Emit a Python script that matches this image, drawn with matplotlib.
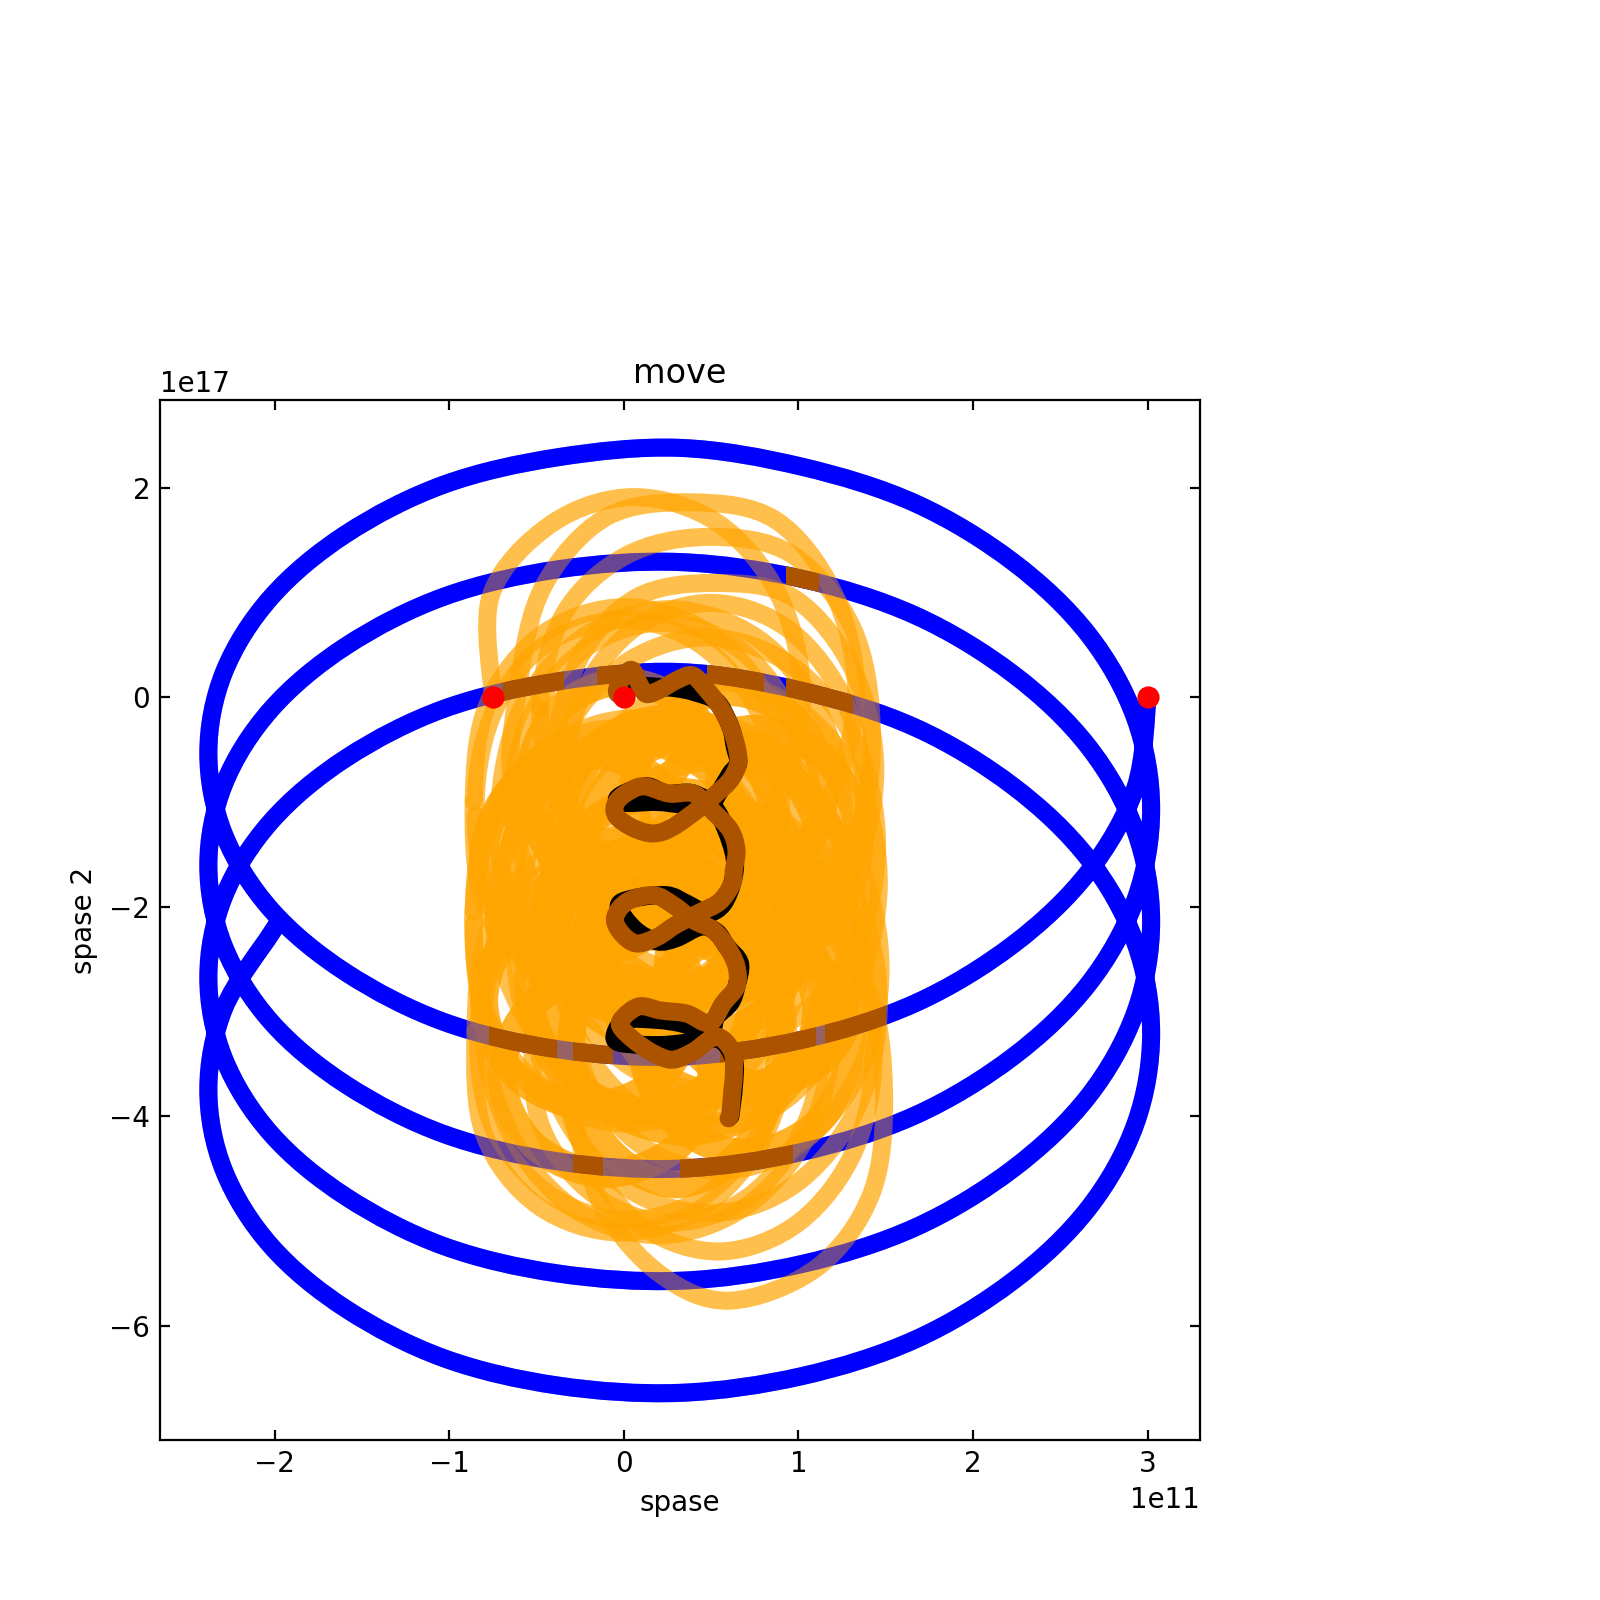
"""Three body move plot
"""
import numpy as np
import matplotlib
matplotlib.use('Agg')
import matplotlib.pyplot as plt
from matplotlib.patches import PathPatch, Rectangle
from matplotlib.path import Path

# all paths in units of 1e11 (x) and 1e17 (y)
blue_x = [3.0, 2.93, 2.66, 2.23, 1.67, 1.02, .32, -.38, -1.03, -1.59, -2.02, -2.29,
          -2.38, -2.29, -2.02, -1.59, -1.03, -.38, .32, 1.02, 1.67, 2.23, 2.66, 2.93,
          3.02, 2.93, 2.66, 2.23, 1.67, 1.02, .32, -.38, -1.03, -1.59, -2.02, -2.29,
          -2.38, -2.29, -2.02, -1.59, -1.03, -.38, .32, 1.02, 1.67, 2.23, 2.66, 2.93,
          3.02, 2.93, 2.66, 2.23, 1.67, 1.02, .32, -.38, -1.03, -1.59, -2.02, -2.29,
          -2.38, -2.29, -2.02, -1.59, -1.03, -.38, .32, 1.02, 1.67, 2.23, 2.66, 2.93,
          3.02, 2.93, 2.66, 2.23, 1.67, 1.02, .32, -.38, -1.03, -1.59, -2.02, -2.29,
          -2.38, -2.29, -2.02, -1.97]
blue_y = [0, -.865, -1.67, -2.36, -2.92, -3.27, -3.43, -3.36, -3.10, -2.63, -2.03, -1.31,
          -.535, .24, .956, 1.56, 2.03, 2.29, 2.38, 2.20, 1.85, 1.29, .60, -.205,
          -1.07, -1.935, -2.74, -3.43, -3.99, -4.34, -4.50, -4.43, -4.17, -3.70, -3.10, -2.38,
          -1.605, -.83, -.114, .49, .96, 1.22, 1.29, 1.13, .78, .22, -.47, -1.275,
          -2.14, -3.005, -3.81, -4.50, -5.06, -5.41, -5.57, -5.50, -5.24, -4.77, -4.17, -3.45,
          -2.675, -1.90, -1.184, -.58, -.11, .15, .24, .06, -.29, -.85, -1.54, -2.345,
          -3.21, -4.075, -4.88, -5.57, -6.13, -6.48, -6.64, -6.57, -6.31, -5.84, -5.24, -4.52,
          -3.745, -2.97, -2.254, -2.13]

# one row per loop, 12 points each
orange_x = [-.75, -.76, -.41, .06, .54, .885, 1.02, .91, .585, .14, -.31, -.63,
            -.60, -.46, -.10, .40, .87, 1.20, 1.33, 1.20, .90, .45, -.02, -.36,
            -.48, -.345, .01, .48, .96, 1.31, 1.42, 1.34, 1.02, .58, .13, -.19,
            -.38, -.26, .07, .53, .98, 1.32, 1.44, 1.31, .97, .51, .04, -.30,
            -.35, -.24, .07, .51, .95, 1.27, 1.375, 1.23, .88, .40, -.08, -.44,
            -.64, -.54, -.22, .22, .66, .97, 1.08, .93, .58, .10, -.38, -.74,
            -.85, -.76, -.47, -.01, .44, .78, .90, .77, .43, -.04, -.50, -.80,
            -.86, -.78, -.46, .01, .49, .84, .98, .87, .55, .10, -.34, -.66,
            -.71, -.57, -.21, .27, .76, 1.115, 1.26, 1.16, .84, .41, -.03, -.35,
            -.455, -.32, .03, .50, .97, 1.32, 1.45, 1.34, 1.01, .56, .11, -.21,
            -.325, -.21, .12, .57, 1.02, 1.35, 1.46, 1.33, .98, .51, .04, -.30,
            -.42, -.32, -.005, .43, .87, 1.19, 1.29, 1.14, .785, .30, -.18, -.54,
            -.74, -.63, -.31, .13, .57, .89, 1.0, .86, .51, .03, -.45, -.78,
            -.86, -.79, -.50, -.04, .43, .77, .89, .77, .44, -.02, -.48, -.79,
            -.86, -.74, -.405, .07, .55, .91, 1.05, .95, .63, .19, -.25, -.57,
            -.61, -.47, -.11, .37, .85, 1.21, 1.35, 1.25, .93, .49, .05, -.265,
            -.39, -.26, .08, .545, 1.01, 1.35, 1.47, 1.36, 1.03, .575, .12, -.21,
            -.285, -.18, .15, .59, 1.04, 1.36, 1.46, 1.33, .98, .51, .03, -.32,
            -.51, -.41, -.10, .34, .78, 1.09, 1.195, 1.05, .69, .21, -.27, -.63,
            -.80, -.72, -.39, .055, .50, .83, .94, .805, .46, -.015, -.49, -.80,
            -.85, -.78, -.50, -.03, .44, .78, .91, .80, .47, .02, -.43, -.76,
            -.83, -.69, -.33, .15, .635, .99, 1.14, 1.04, .72, .28, -.155, -.47,
            -.515, -.375, -.02, .46, .935, 1.29, 1.43, 1.325, 1.005, .56, .12, -.20,
            -.35, -.22, .13, .60, 1.07, 1.40, 1.49, 1.42, 1.11, .61, .21, -.12,
            -.30]
orange_y = [0, .98, 1.66, 1.91, 1.66, .98, .06, -.87, -1.54, -1.79, -1.54, -.87,
            .15, 1.06, 1.72, 1.86, 1.69, 1.0, .06, -.88, -1.57, -1.84, -1.60, -.94,
            -.105, .79, 1.35, 1.53, 1.365, .66, -.30, -1.26, -1.965, -2.25, -2.03, -1.39,
            -.545, .35, .95, 1.09, .94, .234, -.72, -1.67, -2.38, -2.66, -2.44, -1.79,
            -.89, .015, .67, .90, .64, -.06, -1.0, -1.94, -2.64, -2.90, -2.67, -2.015,
            -1.13, -.21, .465, .71, .46, -.22, -1.15, -2.08, -2.76, -3.01, -2.765, -2.09,
            -1.13, -.20, .48, .74, .50, -.17, -1.09, -2.01, -2.68, -2.92, -2.66, -1.98,
            -.99, -.065, .61, .86, .61, -.065, -.99, -1.915, -2.59, -2.84, -2.59, -1.915,
            -.965, -.056, .60, .84, .57, -.12, -1.06, -2.0, -2.69, -2.96, -2.72, -2.06,
            -1.185, -.29, .35, .57, .29, -.41, -1.37, -2.33, -3.03, -3.31, -3.09, -2.45,
            -1.61, -.72, -.07, .145, -.14, -.84, -1.80, -2.76, -3.46, -3.745, -3.53, -2.88,
            -2.025, -1.12, -.46, -.23, -.495, -1.19, -2.13, -3.07, -3.765, -4.03, -3.80, -3.14,
            -2.22, -1.295, -.62, -.37, -.62, -1.295, -2.22, -3.145, -3.82, -4.07, -3.82, -3.145,
            -2.165, -1.23, -.55, -.295, -.54, -1.21, -2.125, -3.04, -3.71, -3.955, -3.70, -3.02,
            -2.04, -1.12, -.45, -.20, -.45, -1.13, -2.06, -2.99, -3.67, -3.92, -3.67, -3.0,
            -2.07, -1.17, -.515, -.29, -.56, -1.25, -2.2, -3.15, -3.84, -4.11, -3.885, -3.23,
            -2.37, -1.48, -.84, -.62, -.90, -1.61, -2.57, -3.53, -4.24, -4.52, -4.30, -3.66,
            -2.82, -1.92, -1.28, -1.055, -1.33, -2.04, -2.99, -3.94, -4.65, -4.925, -4.70, -4.06,
            -3.18, -2.27, -1.60, -1.365, -1.63, -2.31, -3.25, -4.19, -4.87, -5.135, -4.90, -4.23,
            -3.29, -2.36, -1.685, -1.43, -1.68, -2.35, -3.27, -4.19, -4.86, -5.11, -4.855, -4.175,
            -3.19, -2.26, -1.58, -1.33, -1.57, -2.24, -3.16, -4.08, -4.75, -4.99, -4.74, -4.06,
            -3.09, -2.17, -1.51, -1.265, -1.52, -2.21, -3.14, -4.07, -4.76, -5.015, -4.77, -4.11,
            -3.20, -2.30, -1.655, -1.43, -1.71, -2.41, -3.36, -4.31, -5.01, -5.29, -5.065, -4.42,
            -3.565, -2.67, -2.03, -1.82, -2.10, -2.81, -3.77, -4.73, -5.44, -5.76, -5.51, -4.87,
            -3.95]

# smaller loops inside the solid part, 8 points each
inner_x = [-.37, -.19, .25, .69, .87, .69, .25, -.19,
           -.25, -.04, .45, .94, 1.15, .94, .45, -.04,
           -.65, -.44, .05, .54, .75, .54, .05, -.44,
           -.45, -.23, .3, .83, 1.05, .83, .3, -.23,
           -.1, .09, .55, 1.01, 1.2, 1.01, .55, .09,
           -.55, -.36, .1, .56, .75, .56, .1, -.36,
           -.4, -.18, .35, .88, 1.1, .88, .35, -.18,
           .05, .21, .6, .99, 1.15, .99, .6, .21,
           -.55, -.39, 0, .39, .55, .39, 0, -.39,
           -.3, -.12, .3, .72, .9, .72, .3, -.12,
           .15, .33, .75, 1.17, 1.35, 1.17, .75, .33,
           -.8, -.62, -.2, .22, .4, .22, -.2, -.62,
           .25, .41, .8, 1.19, 1.35, 1.19, .8, .41,
           -.8, -.62, -.2, .22, .4, .22, -.2, -.62,
           .1, .28, .7, 1.12, 1.3, 1.12, .7, .28,
           -.7, -.52, -.1, .32, .5, .32, -.1, -.52]
inner_y = [-1.25, -.51, -.2, -.51, -1.25, -1.99, -2.3, -1.99,
           -1.6, -.72, -.35, -.72, -1.6, -2.48, -2.85, -2.48,
           -1.7, -.78, -.4, -.78, -1.7, -2.62, -3.0, -2.62,
           -2.1, -1.25, -.9, -1.25, -2.1, -2.95, -3.3, -2.95,
           -2.5, -1.58, -1.2, -1.58, -2.5, -3.42, -3.8, -3.42,
           -2.7, -1.82, -1.45, -1.82, -2.7, -3.58, -3.95, -3.58,
           -3.0, -2.19, -1.85, -2.19, -3.0, -3.81, -4.15, -3.81,
           -.9, -.23, .05, -.23, -.9, -1.57, -1.85, -1.57,
           -.85, -.14, .15, -.14, -.85, -1.56, -1.85, -1.56,
           -3.3, -2.35, -1.95, -2.35, -3.3, -4.25, -4.65, -4.25,
           -1.4, -.62, -.3, -.62, -1.4, -2.18, -2.5, -2.18,
           -1.5, -.83, -.55, -.83, -1.5, -2.17, -2.45, -2.17,
           -2.6, -1.82, -1.5, -1.82, -2.6, -3.38, -3.7, -3.38,
           -2.9, -2.19, -1.9, -2.19, -2.9, -3.61, -3.9, -3.61,
           -3.3, -2.56, -2.25, -2.56, -3.3, -4.04, -4.35, -4.04,
           -3.6, -2.93, -2.65, -2.93, -3.6, -4.27, -4.55, -4.27]

black_x = [0, .005, .19, .30, .40, .53, .61, .635, .655, .61, .53, .49, .36, .19, .015,
           -.04, 0, .13, .245, .40, .53, .625, .63, .57, .475, .36, .245, .055, -.03,
           .065, .19, .30, .44, .53, .59, .665, .645, .61, .53, .49, .32, .19, .015,
           -.05, -.02, .21, .40, .55, .63, .63, .61]
black_y = [.04, .115, .10, .085, .05, -.04, -.28, -.47, -.63, -.73, -.95, -1.04, -1.03, -1.0, -1.01,
           -.98, -.92, -.85, -.92, -.92, -1.08, -1.46, -1.71, -1.97, -2.06, -1.97, -1.89, -1.92, -2.0,
           -2.22, -2.33, -2.30, -2.19, -2.24, -2.38, -2.54, -2.76, -2.92, -3.05, -3.18, -3.11, -3.08, -3.08,
           -3.21, -3.30, -3.32, -3.29, -3.27, -3.46, -3.72, -4.0]

brown_x = [0, -.04, -.01, .045, .09, .13, .21, .30, .39, .46, .55, .61, .645, .655, .61, .53, .44,
           .28, .17, .055, -.04, -.05, 0, .11, .26, .40, .51, .61, .645, .63, .62, .55, .44,
           .30, .19, .07, -.02, -.05, .02, .17, .28, .40, .51, .59, .645, .645, .57, .49,
           .36, .21, .09, 0, -.02, .055, .17, .28, .40, .53, .62, .63, .62, .61, .60]
brown_y = [0, .05, .18, .26, .12, .03, .075, .16, .21, .10, -.09, -.28, -.47, -.63, -.79, -.92, -1.05,
           -1.24, -1.30, -1.25, -1.14, -1.03, -.93, -.85, -.92, -.92, -1.09, -1.27, -1.46, -1.65, -1.78, -1.95, -2.05,
           -2.17, -2.29, -2.35, -2.24, -2.10, -1.95, -1.89, -1.98, -2.13, -2.22, -2.38, -2.57, -2.76, -2.92, -3.11,
           -3.02, -2.99, -2.95, -3.05, -3.14, -3.27, -3.40, -3.46, -3.38, -3.24, -3.38, -3.59, -3.78, -3.97, -4.02]

start_x = [-.75, 0, 3.0]
start_y = [0, 0, 0]

BROWN = '#ac5300'
LW = 6.5
INNER_LW = 10
xs = 1e11
ys = 1e17


def curve(x, y, i0=0, i1=None):
    # bezier path through the points i0..i1, the neighbours set the tangents
    p = np.column_stack([x, y])
    last = len(p) - 1
    if i1 is None:
        i1 = last
    verts = [p[i0]]
    for i in range(i0, i1):
        before = p[max(i - 1, 0)]
        after = p[min(i + 2, last)]
        verts.append(p[i] + (p[i + 1] - before) / 6)
        verts.append(p[i + 1] - (after - p[i]) / 6)
        verts.append(p[i + 1])
    codes = [Path.MOVETO] + [Path.CURVE4] * (len(verts) - 1)
    return Path(verts, codes)


def draw(ax, path, color, zorder, alpha=None, lw=LW):
    patch = PathPatch(path, facecolor='none', edgecolor=color, linewidth=lw, alpha=alpha,
                      capstyle='round', joinstyle='round', zorder=zorder)
    ax.add_patch(patch)
    return patch


def main():
    fig = plt.figure(figsize=(8, 8), dpi=200)
    ax = fig.add_axes([.1, .1, .65, .65])

    bx = np.array(blue_x) * xs
    by = np.array(blue_y) * ys
    ox = np.array(orange_x) * xs
    oy = np.array(orange_y) * ys
    ix = np.array(inner_x) * xs
    iy = np.array(inner_y) * ys
    blue_path = curve(bx, by)

    draw(ax, blue_path, 'blue', 2)

    # one patch per loop so the overlaps build up to full orange
    for i in range(0, len(ox) - 1, 12):
        draw(ax, curve(ox, oy, i, i + 12), 'orange', 3, alpha=.7)
    for i in range(0, len(ix), 8):
        lx = np.r_[ix[i:i + 8], ix[i:i + 3]]
        ly = np.r_[iy[i:i + 8], iy[i:i + 3]]
        draw(ax, curve(lx, ly, 1, 9), 'orange', 3, alpha=.85, lw=INNER_LW)

    # blue shows through the orange
    draw(ax, blue_path, 'blue', 4, alpha=.4)

    # stretches of the blue path where the orange is solid: x0, x1, y0, y1
    dark_parts = [(-.69, -.345, -.35, .5), (-.156, .07, -.35, .5), (.475, .80, -.35, .5),
                  (.93, 1.31, -.35, .5), (.93, 1.12, .7, 1.5),
                  (-.77, -.385, -3.8, -3.0), (-.29, -.06, -3.8, -3.0), (.55, 1.10, -3.8, -3.0),
                  (1.15, 1.5, -3.6, -2.5), (-.29, -.12, -4.8, -4.0), (.32, .97, -4.8, -4.0)]
    for x0, x1, y0, y1 in dark_parts:
        patch = draw(ax, blue_path, BROWN, 5)
        patch.set_clip_path(Rectangle((x0 * xs, y0 * ys), (x1 - x0) * xs, (y1 - y0) * ys,
                                      transform=ax.transData))

    draw(ax, curve(np.array(black_x) * xs, np.array(black_y) * ys), 'black', 6)
    draw(ax, curve(np.array(brown_x) * xs, np.array(brown_y) * ys), BROWN, 7)
    ax.plot(np.array(start_x) * xs, np.array(start_y) * ys, 'o', color='red', markersize=7, zorder=8)

    ax.set_xlim(-2.657 * xs, 3.30 * xs)
    ax.set_ylim(-7.09 * ys, 2.837 * ys)
    ax.tick_params(direction='in', top=True, right=True)
    ax.set_title('move')
    ax.set_xlabel('spase')
    ax.set_ylabel('spase 2')

    fig.savefig('out.png')
    plt.close()


if __name__ == '__main__':
    main()
